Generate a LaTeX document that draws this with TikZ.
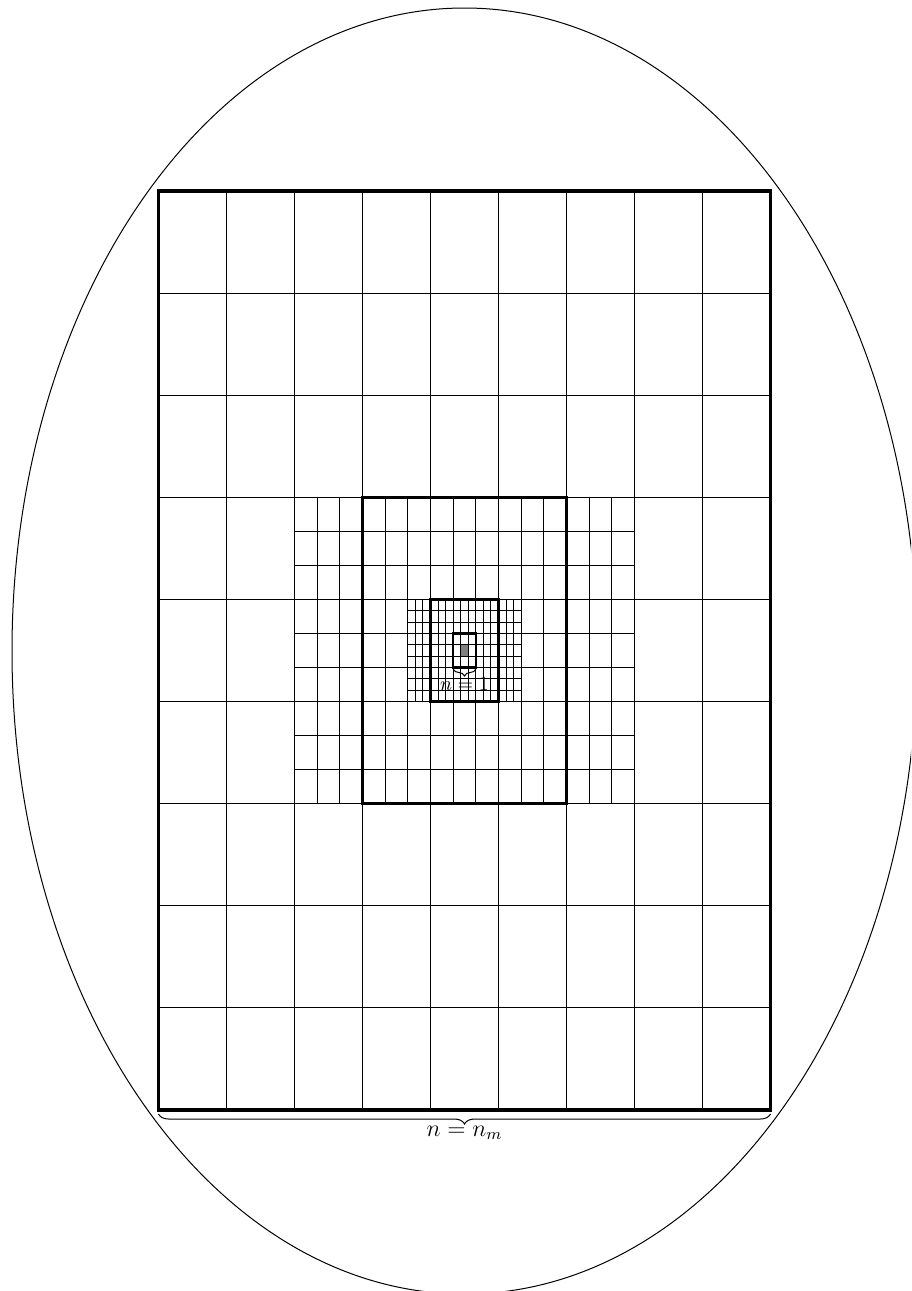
\documentclass[tikz,border=0pt]{standalone}
\usetikzlibrary{decorations.pathreplacing}
\begin{document}
\begin{tikzpicture}[x=0.5pt,y=-0.5pt,
  gridline/.style={line width=0.55pt},
  boxline/.style={line width=1.3pt},
  outerline/.style={line width=1.7pt},
  bracestyle/.style={decorate,line width=0.5pt},
  lbl/.style={inner sep=0.5pt}]
\useasboundingbox (0,0) rectangle (911,1291);
\clip (0,0) rectangle (911,1291);
\def\X{158.5}\def\Y{191}\def\A{68}\def\B{102.1}
% ellipse
\draw[line width=0.5pt] (464.5,651) ellipse [x radius=452.5, y radius=643];
% level 0 grid
\foreach \i in {1,...,8}{
  \draw[gridline] ({\X+\i*\A},\Y) -- ({\X+\i*\A},{\Y+9*\B});
  \draw[gridline] (\X,{\Y+\i*\B}) -- ({\X+9*\A},{\Y+\i*\B});
}
% level 1 grid
\foreach \i in {0,...,15}
  \draw[gridline] ({\X+2*\A+\i*\A/3},{\Y+3*\B}) -- ({\X+2*\A+\i*\A/3},{\Y+6*\B});
\foreach \j in {0,...,9}
  \draw[gridline] ({\X+2*\A},{\Y+3*\B+\j*\B/3}) -- ({\X+7*\A},{\Y+3*\B+\j*\B/3});
% level 2 grid
\foreach \i in {0,...,15}
  \draw[gridline] ({\X+4*\A-\A/3+\i*\A/9},{\Y+4*\B}) -- ({\X+4*\A-\A/3+\i*\A/9},{\Y+5*\B});
\foreach \j in {0,...,9}
  \draw[gridline] ({\X+4*\A-\A/3},{\Y+4*\B+\j*\B/9}) -- ({\X+5*\A+\A/3},{\Y+4*\B+\j*\B/9});
% gray cell
\fill[gray] ({\X+4*\A+4*\A/9},{\Y+4*\B+4*\B/9}) rectangle ({\X+4*\A+5*\A/9},{\Y+4*\B+5*\B/9});
% thick boxes
\draw[outerline] (\X,\Y) rectangle ({\X+9*\A},{\Y+9*\B});
\draw[boxline] ({\X+3*\A},{\Y+3*\B}) rectangle ({\X+6*\A},{\Y+6*\B});
\draw[boxline] ({\X+4*\A},{\Y+4*\B}) rectangle ({\X+5*\A},{\Y+5*\B});
\draw[boxline] ({\X+4*\A+\A/3},{\Y+4*\B+\B/3}) rectangle ({\X+4*\A+2*\A/3},{\Y+4*\B+2*\B/3});
% braces
\coordinate (bl) at (\X,1114);
\coordinate (br) at ({\X+9*\A},1114);
\draw[bracestyle,decoration={brace,amplitude=5pt}] (br) -- (bl);
\node[lbl,anchor=north,font=\fontsize{11.5}{13}\selectfont] (nm) at ({\X+4.5*\A},1124.5) {$n=n_m$};
\coordinate (sl) at ({\X+4*\A+\A/3},669);
\coordinate (sr) at ({\X+4*\A+2*\A/3},669);
\draw[bracestyle,decoration={brace,amplitude=3.5pt}] (sr) -- (sl);
\node[lbl,anchor=north,font=\fontsize{10}{12}\selectfont] (n1) at ({\X+4.5*\A},676.5) {$n=1$};
\end{tikzpicture}
\end{document}
